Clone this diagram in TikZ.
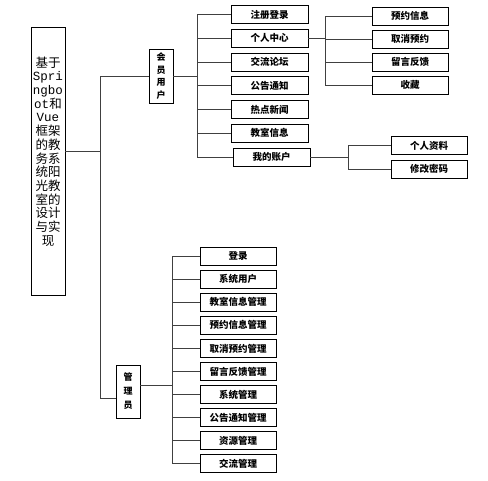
\documentclass[tikz,border=0pt]{standalone}
\usepackage{fontspec}
\setmainfont{Noto Sans CJK SC}
\newfontfamily\latinmono{Liberation Mono}
\usetikzlibrary{positioning}

\begin{document}
\begin{tikzpicture}[x=1pt,y=-1pt,
		box/.style={draw,line width=0.9pt,minimum width=77pt,minimum height=18pt,inner sep=0pt,font=\fontsize{9.5}{10}\selectfont\bfseries},
		rolebox/.style={draw,line width=0.9pt,minimum width=24pt,minimum height=54pt,inner sep=0pt,align=center,font=\fontsize{9}{12.8}\selectfont\bfseries},
		link/.style={draw,black!75,line width=0.9pt}]
		\useasboundingbox (0,0) rectangle (488,480);

		% title
		\node[draw,line width=0.9pt,minimum width=34pt,minimum height=268pt,inner sep=0pt] at (48,161) (title) {};
		\node[align=center,inner sep=0pt,font=\fontsize{12.5}{13.7}\selectfont] at (48,151.5) (titletext)
		{基于\\{\latinmono Spri}\\{\latinmono ngbo}\\{\latinmono ot}和\\{\latinmono Vue}\\框架\\的教\\务系\\统阳\\光教\\室的\\设计\\与实\\现};

		% roles
		\node[rolebox] at (161,76) (huiyuan) {会\\员\\用\\户};
		\node[rolebox,minimum height=53pt,font=\fontsize{9}{14}\selectfont\bfseries] at (128,391.5) (admin) {管\\理\\员};

		% member functions
		\node[box] at (269.5,14.5) (zhuce) {注册登录};
		\node[box,below = 4.85pt of zhuce] (center) {个人中心};
		\node[box,below = 4.85pt of center] (luntan) {交流论坛};
		\node[box,below = 4.85pt of luntan] (gonggao) {公告通知};
		\node[box,below = 4.85pt of gonggao] (xinwen) {热点新闻};
		\node[box,below = 4.85pt of xinwen] (jiaoshi) {教室信息};
		\node[box,below = 4.85pt of jiaoshi,xshift=2pt] (zhanghu) {我的账户};

		% personal centre
		\node[box,minimum width=76pt] at (410,16) (yuyue) {预约信息};
		\node[box,minimum width=76pt,below = 4.1pt of yuyue] (quxiao) {取消预约};
		\node[box,minimum width=76pt,below = 4.1pt of quxiao] (liuyan) {留言反馈};
		\node[box,minimum width=76pt,below = 4.1pt of liuyan] (shoucang) {收藏};

		% my account
		\node[box,minimum width=76pt] at (429,145.5) (ziliao) {个人资料};
		\node[box,minimum width=76pt,below = 4.6pt of ziliao] (mima) {修改密码};

		% admin functions
		\node[box,minimum width=76pt] at (238,256) (denglu) {登录};
		\node[box,minimum width=76pt,below = 4.2pt of denglu] (xtyh) {系统用户};
		\node[box,minimum width=76pt,below = 4.2pt of xtyh] (jsxxgl) {教室信息管理};
		\node[box,minimum width=76pt,below = 4.2pt of jsxxgl] (yyxxgl) {预约信息管理};
		\node[box,minimum width=76pt,below = 4.2pt of yyxxgl] (qxyygl) {取消预约管理};
		\node[box,minimum width=76pt,below = 4.2pt of qxyygl] (lyfkgl) {留言反馈管理};
		\node[box,minimum width=76pt,below = 4.2pt of lyfkgl] (xtgl) {系统管理};
		\node[box,minimum width=76pt,below = 4.2pt of xtgl] (ggtzgl) {公告通知管理};
		\node[box,minimum width=76pt,below = 4.2pt of ggtzgl] (zygl) {资源管理};
		\node[box,minimum width=76pt,below = 4.2pt of zygl] (jlgl) {交流管理};

		\coordinate (mainbus) at (100,0);
		\coordinate (mbus) at (197,0);
		\coordinate (cbus) at (325,0);
		\coordinate (zbus) at (348,0);
		\coordinate (abus) at (172,0);

		% title to roles
		\draw[link] (titletext.east -| title.east) to (titletext.east -| mainbus);
		\draw[link] (huiyuan.west) -| ([yshift=-6.5pt]admin.west -| mainbus) to ([yshift=-6.5pt]admin.west);

		% member
		\draw[link] (huiyuan.east) to (huiyuan.east -| mbus);
		\draw[link] (zhuce.west -| mbus) to (zhanghu.west -| mbus);
		\foreach \n in {zhuce,center,luntan,gonggao,xinwen,jiaoshi,zhanghu}
			\draw[link] (\n.west -| mbus) to (\n.west);

		\draw[link] (center.east) to (center.east -| cbus);
		\draw[link] (yuyue.west -| cbus) to (shoucang.west -| cbus);
		\foreach \n in {yuyue,quxiao,liuyan,shoucang}
			\draw[link] (\n.west -| cbus) to (\n.west);

		\draw[link] (zhanghu.east) to (zhanghu.east -| zbus);
		\draw[link] (ziliao.west -| zbus) to (mima.west -| zbus);
		\foreach \n in {ziliao,mima}
			\draw[link] (\n.west -| zbus) to (\n.west);

		% admin
		\draw[link] ([yshift=6.5pt]admin.east) to ([yshift=6.5pt]admin.east -| abus);
		\draw[link] (denglu.west -| abus) to (jlgl.west -| abus);
		\foreach \n in {denglu,xtyh,jsxxgl,yyxxgl,qxyygl,lyfkgl,xtgl,ggtzgl,zygl,jlgl}
			\draw[link] (\n.west -| abus) to (\n.west);
	\end{tikzpicture}
\end{document}
